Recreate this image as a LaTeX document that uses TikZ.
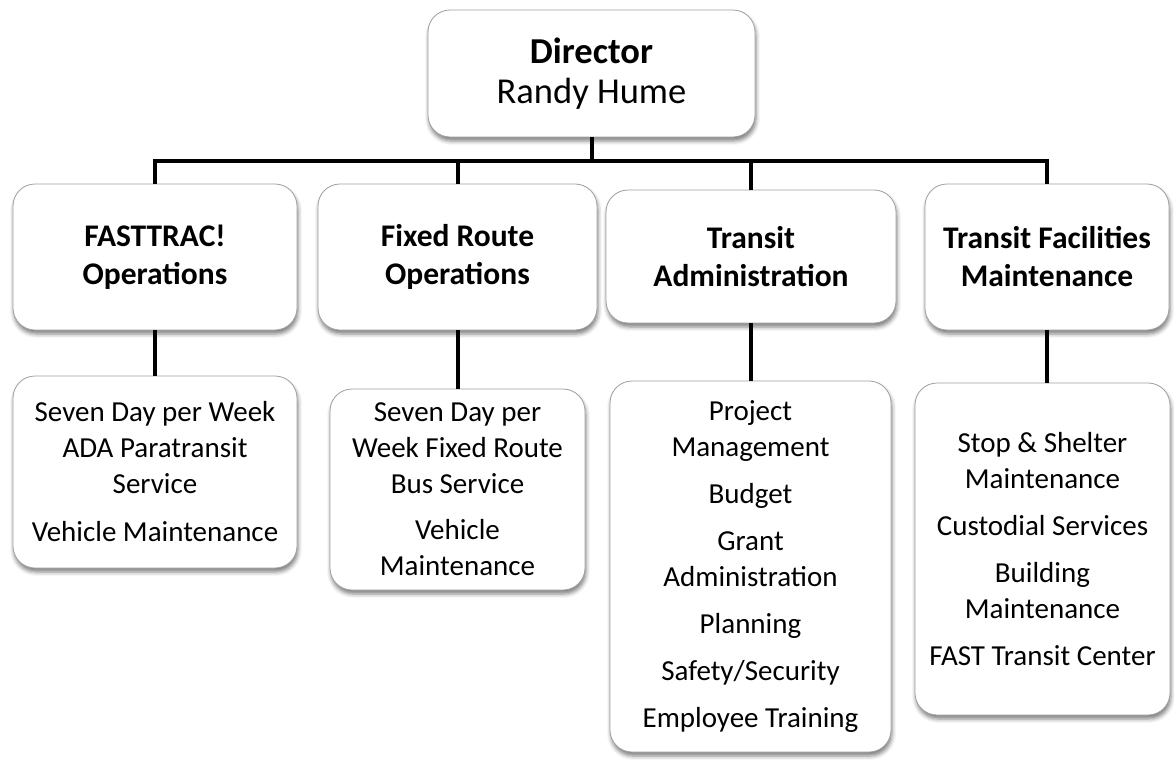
\documentclass[tikz,border=0pt]{standalone}
\usepackage{fontspec}
\setmainfont{Carlito}
\usetikzlibrary{shadows.blur}

\begin{document}
\begin{tikzpicture}[x=1bp,y=-1bp]
    \tikzstyle{box}=[draw=gray!75, line width=0.8bp, fill=white, rounded corners=22bp, align=center, inner sep=0pt,
        blur shadow={shadow xshift=1bp, shadow yshift=-4bp, shadow blur radius=4bp, shadow opacity=50}]
    \tikzstyle{head}=[box, font={\bfseries\fontsize{31.5bp}{38bp}\selectfont}]
    \tikzstyle{duty}=[box, font={\fontsize{29bp}{36bp}\selectfont}]
    \tikzstyle{conn}=[line width=4bp, black]

    \useasboundingbox (0,0) rectangle (1174,761);

    \node[box, minimum width=327bp, minimum height=127bp, font={\fontsize{36.5bp}{40bp}\selectfont}] (dir) at (591.5,73.5)
        {\textbf{Director}\\Randy Hume};

    \node[head, minimum width=284bp, minimum height=146bp] (fast)  at (155,257)    {FASTTRAC!\\Operations};
    \node[head, minimum width=279bp, minimum height=146bp] (fixed) at (457.5,257)  {Fixed Route\\Operations};
    \node[head, minimum width=290bp, minimum height=133bp] (admin) at (751,256.5)  {Transit\\Administration};
    \node[head, minimum width=244bp, minimum height=146bp] (facil) at (1047,257)   {Transit Facilities\\Maintenance};

    \node[duty, minimum width=284bp, minimum height=192bp] (fastsub)  at (155,472)
        {Seven Day per Week\\ADA Paratransit\\Service\\[12bp]Vehicle Maintenance};
    \node[duty, minimum width=255bp, minimum height=201bp] (fixedsub) at (457.5,489.5)
        {Seven Day per\\Week Fixed Route\\Bus Service\\[10bp]Vehicle\\Maintenance};
    \node[duty, minimum width=281bp, minimum height=371bp] (adminsub) at (750.5,566.5)
        {Project\\Management\\[11bp]Budget\\[11bp]Grant\\Administration\\[11bp]Planning\\[11bp]Safety/Security\\[11bp]Employee Training};
    \node[duty, minimum width=255bp, minimum height=332bp] (facilsub) at (1042.5,549)
        {Stop \& Shelter\\Maintenance\\[11bp]Custodial Services\\[11bp]Building\\Maintenance\\[11bp]FAST Transit Center};

    \coordinate (bar) at (591.5,161);
    \draw[conn] (dir.south) -- (bar);
    \draw[conn] (fast.north) |- (bar) -| (facil.north);
    \draw[conn] (fixed.north) -- (fixed.north |- bar);
    \draw[conn] (admin.north) -- (admin.north |- bar);

    \draw[conn] (fast.south) -- (fast.south |- fastsub.north);
    \draw[conn] (fixed.south) -- (fixed.south |- fixedsub.north);
    \draw[conn] (admin.south) -- (admin.south |- adminsub.north);
    \draw[conn] (facil.south) -- (facil.south |- facilsub.north);
\end{tikzpicture}
\end{document}
